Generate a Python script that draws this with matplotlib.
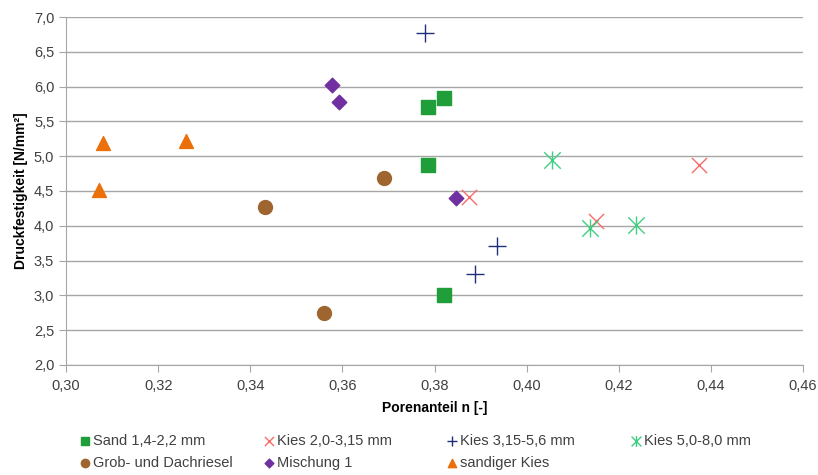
import matplotlib
matplotlib.use("Agg")
import matplotlib.pyplot as plt
from matplotlib.path import Path
from matplotlib.ticker import FuncFormatter, MultipleLocator

plt.rcParams["font.family"] = ["Liberation Sans", "DejaVu Sans"]

# Porenanteil n / Druckfestigkeit per Material
sand_x = [0.3786, 0.3820, 0.3786, 0.3820]
sand_y = [5.70, 5.83, 4.88, 3.00]
kies1_x = [0.3875, 0.4150, 0.4375]
kies1_y = [4.42, 4.07, 4.87]
kies2_x = [0.3779, 0.3936, 0.3887]
kies2_y = [6.77, 3.71, 3.31]
kies3_x = [0.4054, 0.4138, 0.4238]
kies3_y = [4.95, 3.97, 4.01]
grob_x = [0.3432, 0.3690, 0.3561]
grob_y = [4.27, 4.69, 2.75]
misch_x = [0.3577, 0.3593, 0.3846]
misch_y = [6.03, 5.78, 4.40]
sandk_x = [0.3080, 0.3260, 0.3072]
sandk_y = [5.19, 5.22, 4.51]

# Excel-style asterisk: X plus vertical bar
ast = Path([(-1, -1), (1, 1), (-1, 1), (1, -1), (0, -1.1), (0, 1.1)],
           [Path.MOVETO, Path.LINETO, Path.MOVETO, Path.LINETO, Path.MOVETO, Path.LINETO])

fig = plt.figure(figsize=(8.18, 4.75), dpi=100)
ax = fig.add_axes([0.0807, 0.2316, 0.901, 0.7326])

h_sand = ax.scatter(sand_x, sand_y, marker="s", s=90, color="#1f9e3a", label="Sand 1,4-2,2 mm", zorder=3)
h_k1 = ax.scatter(kies1_x, kies1_y, marker="x", s=120, color="#f76a6a", linewidths=1.0, label="Kies 2,0-3,15 mm", zorder=3)
h_k2 = ax.scatter(kies2_x, kies2_y, marker="+", s=150, color="#1f2f7a", linewidths=1.0, label="Kies 3,15-5,6 mm", zorder=3)
h_k3 = ax.scatter(kies3_x, kies3_y, marker=ast, s=170, color="#3fcf80", linewidths=1.0, label="Kies 5,0-8,0 mm", zorder=3)
h_grob = ax.scatter(grob_x, grob_y, marker="o", s=100, color="#9f652f", label="Grob- und Dachriesel", zorder=3)
h_misch = ax.scatter(misch_x, misch_y, marker="D", s=55, color="#7030a0", label="Mischung 1", zorder=3)
h_sandk = ax.scatter(sandk_x, sandk_y, marker="^", s=100, color="#eb700a", label="sandiger Kies", zorder=3)

ax.set_xlim(0.30, 0.46)
ax.set_ylim(2.0, 7.0)
ax.xaxis.set_major_locator(MultipleLocator(0.02))
ax.yaxis.set_major_locator(MultipleLocator(0.5))
ax.xaxis.set_major_formatter(FuncFormatter(lambda v, p: f"{v:.2f}".replace(".", ",")))
ax.yaxis.set_major_formatter(FuncFormatter(lambda v, p: f"{v:.1f}".replace(".", ",")))

ax.grid(axis="y", color="#a6a6a6", linewidth=1.0)
ax.set_axisbelow(True)
for s in ["top", "right"]:
    ax.spines[s].set_visible(False)
for s in ["left", "bottom"]:
    ax.spines[s].set_color("#a6a6a6")
ax.tick_params(axis="both", colors="#a6a6a6", labelcolor="#404040", labelsize=10.5, length=5)
ax.tick_params(axis="x", pad=5)

ax.set_xlabel("Porenanteil n [-]", fontweight="bold", fontsize=10, labelpad=6)
ax.set_ylabel("Druckfestigkeit [N/mm²]", fontweight="bold", fontsize=10, labelpad=4)

# legend: four columns placed at fixed positions
columns = [[h_sand, h_grob], [h_k1, h_misch], [h_k2, h_sandk], [h_k3]]
col_x = [0.095, 0.32, 0.544, 0.769]
for hs, cx in zip(columns, col_x):
    lg = fig.legend(handles=hs, labels=[h.get_label() for h in hs], loc="upper left",
                    bbox_to_anchor=(cx, 0.087), frameon=False, fontsize=10.5,
                    handletextpad=0.05, handlelength=1.0, labelspacing=0.55,
                    markerscale=0.6, borderaxespad=0, borderpad=0)
    for t in lg.get_texts():
        t.set_color("#404040")

fig.savefig("out.png", dpi=100)
